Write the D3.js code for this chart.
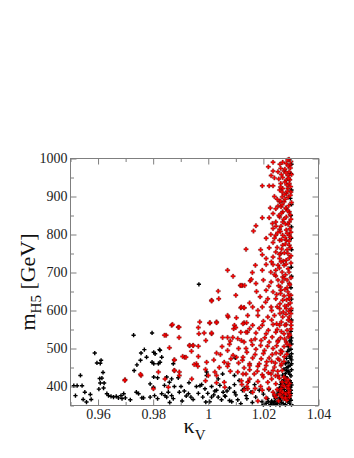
<!DOCTYPE html>
<html><head><meta charset="utf-8">
<script src="https://cdn.jsdelivr.net/npm/d3@7"></script>
<style>
html,body{margin:0;padding:0;background:#fff;}
svg{display:block;font-family:"Liberation Serif","DejaVu Serif",serif;}
</style></head>
<body><svg id="c" width="354" height="458"></svg>
<script>
// ---- data ----
const xDomain = [0.95, 1.04];
const yDomain = [350, 1000];
const xMajor = [0.96, 0.98, 1.00, 1.02, 1.04];
const xTickLabels = ["0.96", "0.98", "1", "1.02", "1.04"];
const xMinor = [0.95, 0.97, 0.99, 1.01, 1.03];
const yMajor = [400, 500, 600, 700, 800, 900, 1000];
const yTickLabels = ["400", "500", "600", "700", "800", "900", "1000"];
const yMinor = [350, 450, 550, 650, 750, 850, 950];

// black points [kappa_V, m_H5]
const blackPoints = [
[0.9512,402],[0.9524,402],[0.9518,376],[0.9536,429],[0.9542,402],[0.9552,385],[0.9546,366],[0.9558,359],[0.9572,379],[0.9575,366],
[0.9588,488],[0.9596,462],[0.9611,469],[0.9608,461],[0.9618,437],[0.9606,421],[0.9614,422],[0.9608,409],[0.9622,409],[0.9603,393],
[0.9620,396],[0.9632,381],[0.9638,376],[0.9647,374],[0.9656,372],[0.9666,374],[0.9674,370],[0.9683,376],[0.9693,381],[0.9687,368],
[0.9699,370],[0.9717,365],[0.9729,535],[0.9731,442],[0.9741,457],[0.9739,385],[0.9747,381],[0.9759,370],[0.9756,488],[0.9754,469],
[0.9768,497],[0.9776,477],[0.9796,541],[0.9802,490],[0.9796,464],[0.9802,460],[0.9819,460],[0.9825,495],[0.9831,477],[0.9802,425],
[0.9816,423],[0.9789,407],[0.9801,398],[0.9789,372],[0.9805,376],[0.9816,368],[0.9831,381],[0.9843,376],[0.9765,370],
[0.9823,497],[0.9807,486],[0.9825,464],[0.9873,460],[0.9849,425],[0.9867,420],[0.9994,438],
[0.9966,669],[1.0098,475],[0.9994,429],[0.9891,423],[0.9859,411],[0.9841,403],[0.9877,400],[0.9901,400],[0.9913,388],[0.9855,385],
[0.9867,376],[0.9849,372],[0.9873,368],[0.9937,372],[0.9957,400],[0.9976,405],[0.9988,394],[0.9998,382],[1.0012,400],[1.0024,388],
[1.0042,403],[1.0054,385],[1.0062,374],[1.0077,396],[1.0095,385],[1.0107,365],[0.9991,359],[1.0012,372],[0.9928,381],[1.0124,390],
[1.0137,376],[1.0036,372],[1.0077,363],[0.9964,382],[0.9895,385],[1.0112,416],[1.0095,429],[1.0052,433],[1.0036,420],
[0.9860,358],[0.9905,362],[0.9920,375],[0.9945,366],[0.9980,372],[1.0005,360],[1.0020,378],[1.0048,365],[1.0068,388],[1.0085,360],
[1.0100,378],[1.0118,355],[1.0140,368],[1.0155,385],[1.0160,358],[1.0172,372],[1.0185,390],[1.0195,360],[1.0200,380],[1.0215,368],
[1.0220,392],[1.0230,362],[1.0168,405],[1.0130,395],[1.0145,412],[1.0095,405],[1.0060,375],[1.0030,390],[0.9970,402],[0.9930,410],
[1.0302,528],[1.0296,520],[1.0302,512],[1.0290,505],[1.0300,498],[1.0288,492],[1.0302,486],[1.0294,480],[1.0284,474],[1.0302,470],
[1.0290,464],[1.0280,460],[1.0298,456],[1.0286,450],[1.0275,446],[1.0302,444],[1.0292,438],[1.0280,434],[1.0270,430],[1.0300,428],
[1.0286,422],[1.0274,418],[1.0296,415],[1.0266,412],[1.0302,404],[1.0290,400],[1.0270,398],[1.0258,396],[1.0300,390],[1.0284,386],
[1.0264,384],[1.0250,380],[1.0298,376],[1.0276,374],[1.0258,370],[1.0244,368],[1.0300,364],[1.0288,360],[1.0266,358],[1.0250,356],
[1.0236,354],[1.0302,352],[1.0280,352],[1.0260,351],[1.0225,352],[1.0210,356],[1.0295,368],[1.0290,440],[1.0278,410],[1.0262,364],
[1.0240,360],[1.0290,396],[1.0300,382],
[1.0296,532],[1.0300,520],[1.0293,496],[1.0298,474],[1.0290,452],[1.0284,442],[1.0296,432],[1.0280,426],[1.0292,410],[1.0284,404],
[1.0262,405],[1.0298,398],[1.0276,392],[1.0255,388],[1.0294,380],[1.0268,378],[1.0240,375],[1.0284,366],[1.0254,362],[1.0230,358],
[1.0296,356],[1.0272,355],[1.0245,353],[1.0218,360],[1.0200,352],[1.0290,374],[1.0278,382],[1.0300,410],[1.0302,460],[1.0300,478],
[1.0302,985],[1.0300,960],[1.0302,917],[1.0298,895],[1.0302,879],[1.0300,850],[1.0302,820],[1.0301,790],[1.0302,760],[1.0301,714],
[1.0302,690],[1.0300,660],[1.0302,630],[1.0301,600],[1.0302,575],[1.0300,545]
];

// red points [kappa_V, m_H5]
const redPoints = [
[0.9756,429],[0.9698,418],[0.9801,394],[0.9819,438],[0.9843,420],[0.9855,398],
[0.9867,561],[0.9891,556],[0.9847,535],[0.9877,470],[0.9877,442],[0.9932,508],[0.9945,508],[0.9914,477],[0.9957,460],[0.9895,429],
[1.0030,429],[1.0072,460],[1.0012,539],[0.9969,570],[1.0005,567],[1.0030,570],[1.0072,583],[1.0095,561],[1.0012,627],[0.9754,432],[0.9697,416],
[1.0070,706],[1.0124,666],[1.0116,666],[1.0152,678],[1.0036,651],[1.0038,631],[1.0012,625],[1.0070,587],[1.0118,607],[1.0130,607],
[1.0102,581],[1.0006,568],[1.0030,568],[1.0130,568],[1.0139,568],[0.9870,563],[0.9894,556],[0.9964,555],[0.9966,539],[0.9985,541],
[1.0012,541],[1.0092,552],[1.0118,543],[1.0142,543],[0.9841,535],[0.9894,529],[1.0052,529],[1.0070,529],[1.0089,529],[1.0107,526],
[0.9991,521],[0.9964,506],[1.0077,511],[1.0130,517],[0.9859,502],[0.9932,508],[0.9945,508],[0.9939,493],[1.0070,495],[0.9907,479],
[0.9919,477],[0.9964,479],[1.0030,488],[1.0044,484],[1.0082,473],[1.0102,477],[0.9877,470],[0.9949,458],[0.9962,453],[0.9994,464],
[1.0058,464],[1.0070,453],[1.0124,469],[1.0150,460],[0.9877,442],[0.9895,438],[1.0130,449],[1.0107,438],[1.0000,429],[1.0024,438],
[1.0137,433],[1.0150,420],[1.0122,405],[1.0143,394],[1.0058,411],
[1.0293,998],[1.0283,987],[1.0297,983],[1.0235,990],[1.0218,978],[1.0263,974],[1.0275,967],[1.0253,965],[1.0235,967],[1.0293,965],
[1.0289,955],[1.0240,949],[1.0256,946],[1.0283,943],[1.0263,934],[1.0294,934],[1.0196,928],[1.0221,928],[1.0235,928],[1.0270,921],
[1.0289,921],[1.0259,917],[1.0283,908],[1.0268,899],[1.0259,886],[1.0275,886],[1.0253,875],[1.0264,873],[1.0245,868],[1.0283,868],
[1.0270,860],[1.0294,860],[1.0235,855],[1.0196,844],[1.0221,844],[1.0259,846],[1.0283,846],[1.0233,829],[1.0245,833],[1.0270,833],
[1.0294,833],[1.0173,823],[1.0164,809],[1.0235,816],[1.0259,814],[1.0283,812],[1.0227,800],[1.0245,798],[1.0270,798],[1.0294,798],
[1.0259,785],[1.0283,785],[1.0235,779],[1.0270,772],[1.0294,772],[1.0137,761],[1.0221,765],[1.0196,747],[1.0245,754],[1.0263,750],
[1.0289,750],[1.0210,737],[1.0235,741],[1.0259,737],[1.0283,732],[1.0171,719],[1.0210,721],[1.0235,721],[1.0253,719],[1.0275,719],
[1.0196,706],[1.0227,701],[1.0245,706],[1.0268,701],[1.0293,701],[1.0245,691],[1.0270,688],[1.0156,682],
[1.0120,666],[1.0132,666],[1.0173,671],[1.0228,675],[1.0253,680],[1.0275,684],[1.0294,671],[1.0210,653],[1.0235,649],[1.0263,653],
[1.0289,649],[1.0188,636],[1.0216,631],[1.0245,631],[1.0270,627],[1.0294,631],[1.0120,609],[1.0130,607],[1.0161,609],[1.0196,609],
[1.0228,609],[1.0259,605],[1.0283,605],[1.0301,605],[1.0143,587],[1.0180,587],[1.0216,583],[1.0240,587],[1.0270,583],[1.0294,583],
[1.0126,565],[1.0161,561],[1.0196,561],[1.0235,563],[1.0259,561],[1.0283,563],[1.0301,561],[1.0137,543],[1.0173,541],[1.0210,539],
[1.0245,543],[1.0275,539],[1.0294,539],[1.0120,521],[1.0156,521],[1.0192,521],[1.0221,517],[1.0253,521],[1.0283,517],[1.0137,500],
[1.0173,498],[1.0204,495],[1.0235,500],[1.0263,495],[1.0126,477],[1.0161,475],[1.0192,473],[1.0221,475],[1.0253,473],[1.0150,455],
[1.0180,453],[1.0210,455],[1.0240,451],[1.0264,455],[1.0126,433],[1.0167,433],[1.0196,431],[1.0228,433],[1.0253,429],[1.0143,411],
[1.0180,413],[1.0216,411],[1.0245,407],[1.0270,403],[1.0289,398],[1.0130,390],[1.0161,385],[1.0196,390],[1.0235,385],[1.0259,381],
[1.0283,381],[1.0264,394],[1.0283,411],[1.0294,390],[1.0245,372],[1.0275,368],[1.0294,372],
[1.0300,992],[1.0290,980],[1.0278,972],[1.0302,958],[1.0270,950],[1.0296,944],[1.0285,930],[1.0262,925],[1.0300,912],[1.0276,905],
[1.0290,898],[1.0250,893],[1.0302,884],[1.0268,878],[1.0281,870],[1.0297,852],[1.0256,850],[1.0274,840],[1.0290,826],[1.0246,822],
[1.0262,808],[1.0300,806],[1.0279,792],[1.0240,790],[1.0293,782],[1.0266,762],[1.0286,760],[1.0250,766],[1.0300,744],[1.0272,730],
[1.0229,728],[1.0258,712],[1.0290,710],[1.0240,695],[1.0280,694],[1.0300,686],[1.0262,662],[1.0286,660],[1.0220,664],[1.0248,642],
[1.0300,640],[1.0275,638],[1.0208,622],[1.0260,618],[1.0290,615],[1.0230,600],[1.0272,596],[1.0300,592],[1.0180,600],[1.0150,620],
[1.0100,640],[1.0175,650],[1.0200,680],[1.0160,700],[1.0090,690],[1.0190,760],[1.0210,790],[1.0225,870],[1.0240,900],[1.0228,955],
[1.0260,985],
[1.0290,575],[1.0265,570],[1.0230,575],[1.0200,572],[1.0300,552],[1.0250,550],[1.0218,548],[1.0185,553],[1.0150,552],[1.0100,555],
[1.0290,530],[1.0262,528],[1.0232,530],[1.0205,528],[1.0170,525],[1.0080,520],[1.0296,508],[1.0275,505],[1.0248,507],[1.0215,506],
[1.0190,508],[1.0160,510],[1.0110,500],[1.0050,505],[1.0285,485],[1.0262,486],[1.0232,484],[1.0200,487],[1.0170,484],[1.0140,490],
[1.0090,482],[1.0020,470],[1.0275,466],[1.0243,462],[1.0212,465],[1.0185,460],[1.0110,462],[1.0040,450],[1.0268,442],[1.0235,442],
[1.0205,445],[1.0178,440],[1.0150,444],[1.0080,440],[0.9990,445],[1.0282,420],[1.0268,412],[1.0295,408],[1.0276,400],[1.0290,395],
[1.0262,388],[1.0280,380],[1.0296,378],[1.0268,372],[1.0285,364],[1.0255,362],[1.0230,420],[1.0200,425],[1.0190,400],[1.0170,395],
[1.0140,400],[1.0120,415],[1.0220,395],[1.0240,378],[1.0210,370],[1.0180,362],[1.0060,398],[1.0030,410],[0.9990,415],[0.9940,420],
[1.0288,996],[1.0270,990],[1.0298,975],[1.0282,962],[1.0265,958],[1.0292,948],[1.0278,938],[1.0299,926],[1.0268,912],[1.0287,914],
[1.0298,903],[1.0279,893],[1.0262,888],[1.0292,876],[1.0288,862],[1.0266,856],[1.0300,840],[1.0280,828],[1.0264,822],[1.0296,815],
[1.0286,803],[1.0252,805],[1.0298,792],[1.0266,786],[1.0280,775],[1.0298,765],[1.0276,752],[1.0258,748],[1.0294,738],[1.0282,722],
[1.0264,728],[1.0300,725],[1.0286,680],[1.0268,675],[1.0296,668],[1.0278,655],[1.0255,665],[1.0292,640],[1.0262,645],[1.0284,628],
[1.0298,620],[1.0250,610],[1.0278,612],[1.0292,598],[1.0260,592],[1.0282,590],[1.0300,570],[1.0278,562],[1.0248,565],[1.0286,548],
[1.0265,545],[1.0296,535],[1.0277,525],[1.0252,518],[1.0286,512],[1.0268,492],[1.0246,488],[1.0276,478],[1.0258,470],[1.0230,466],
[1.0266,460],[1.0252,440],[1.0218,436],[1.0274,425],[1.0258,422],[1.0244,428],[1.0290,418],[1.0250,392],[1.0270,385],[1.0292,385],
[1.0280,370],[1.0260,378],[1.0290,402]
];

// ---- drawing ----
const svg = d3.select("#c");
const L = 70.5, R = 318.5, T = 158.5, B = 405.5;
const x = d3.scaleLinear().domain(xDomain).range([L, R]);
const y = d3.scaleLinear().domain(yDomain).range([B, T]);
const axisColor = "#7f7f7f";

const plot = svg.append("g");
const cross = d3.symbol().type(d3.symbolCross).size(10);
plot.selectAll("path.b").data(blackPoints).join("path").attr("class","b")
  .attr("transform", d => `translate(${x(d[0])},${y(d[1])})`)
  .attr("d", cross).attr("fill", "#000");
const crossR = d3.symbol().type(d3.symbolCross).size(11);
plot.selectAll("path.r").data(redPoints).join("path").attr("class","r")
  .attr("transform", d => `translate(${x(d[0])},${y(d[1])})`)
  .attr("d", crossR).attr("fill", "#ff0000").attr("stroke", "#200").attr("stroke-width", 0.25);

function styleAxis(g){
  g.select(".domain").remove();
  g.selectAll("line").attr("stroke", axisColor).attr("stroke-width", 1);
  g.selectAll("text").attr("fill", "#222").attr("font-size", 14)
   .attr("font-family", '"Liberation Serif","DejaVu Serif",serif');
}
// bottom
svg.append("g").attr("transform", `translate(0,${B})`)
  .call(d3.axisBottom(x).tickValues(xMajor).tickSize(-6).tickPadding(4)
    .tickFormat((d,i) => xTickLabels[i])).call(styleAxis);
svg.append("g").attr("transform", `translate(0,${B})`)
  .call(d3.axisBottom(x).tickValues(xMinor).tickSize(-3.5).tickFormat("")).call(styleAxis);
// top
svg.append("g").attr("transform", `translate(0,${T})`)
  .call(d3.axisTop(x).tickValues(xMajor).tickSize(-6).tickFormat("")).call(styleAxis);
svg.append("g").attr("transform", `translate(0,${T})`)
  .call(d3.axisTop(x).tickValues(xMinor).tickSize(-3.5).tickFormat("")).call(styleAxis);
// left
svg.append("g").attr("transform", `translate(${L},0)`)
  .call(d3.axisLeft(y).tickValues(yMajor).tickSize(-6).tickPadding(3)
    .tickFormat((d,i) => yTickLabels[i])).call(styleAxis);
svg.append("g").attr("transform", `translate(${L},0)`)
  .call(d3.axisLeft(y).tickValues(yMinor).tickSize(-3.5).tickFormat("")).call(styleAxis);
// right
svg.append("g").attr("transform", `translate(${R},0)`)
  .call(d3.axisRight(y).tickValues(yMajor).tickSize(-6).tickFormat("")).call(styleAxis);
svg.append("g").attr("transform", `translate(${R},0)`)
  .call(d3.axisRight(y).tickValues(yMinor).tickSize(-3.5).tickFormat("")).call(styleAxis);

// frame
svg.append("rect").attr("x", L).attr("y", T).attr("width", R-L).attr("height", B-T)
  .attr("fill", "none").attr("stroke", axisColor).attr("stroke-width", 1);

// axis titles
const xl = svg.append("text").attr("x", (L+R)/2).attr("y", 433).attr("text-anchor","middle")
  .attr("font-size", 22).attr("fill", "#111");
xl.append("tspan").text("κ");
xl.append("tspan").attr("font-size", 15).attr("dy", 7).text("V");

const yl = svg.append("text").attr("transform", `translate(35,${(T+B)/2}) rotate(-90)`)
  .attr("text-anchor","middle").attr("font-size", 22).attr("fill", "#111");
yl.append("tspan").text("m");
yl.append("tspan").attr("font-size", 15).attr("dy", 6).text("H5");
yl.append("tspan").attr("dy", -6).text(" [GeV]");
</script></body></html>
